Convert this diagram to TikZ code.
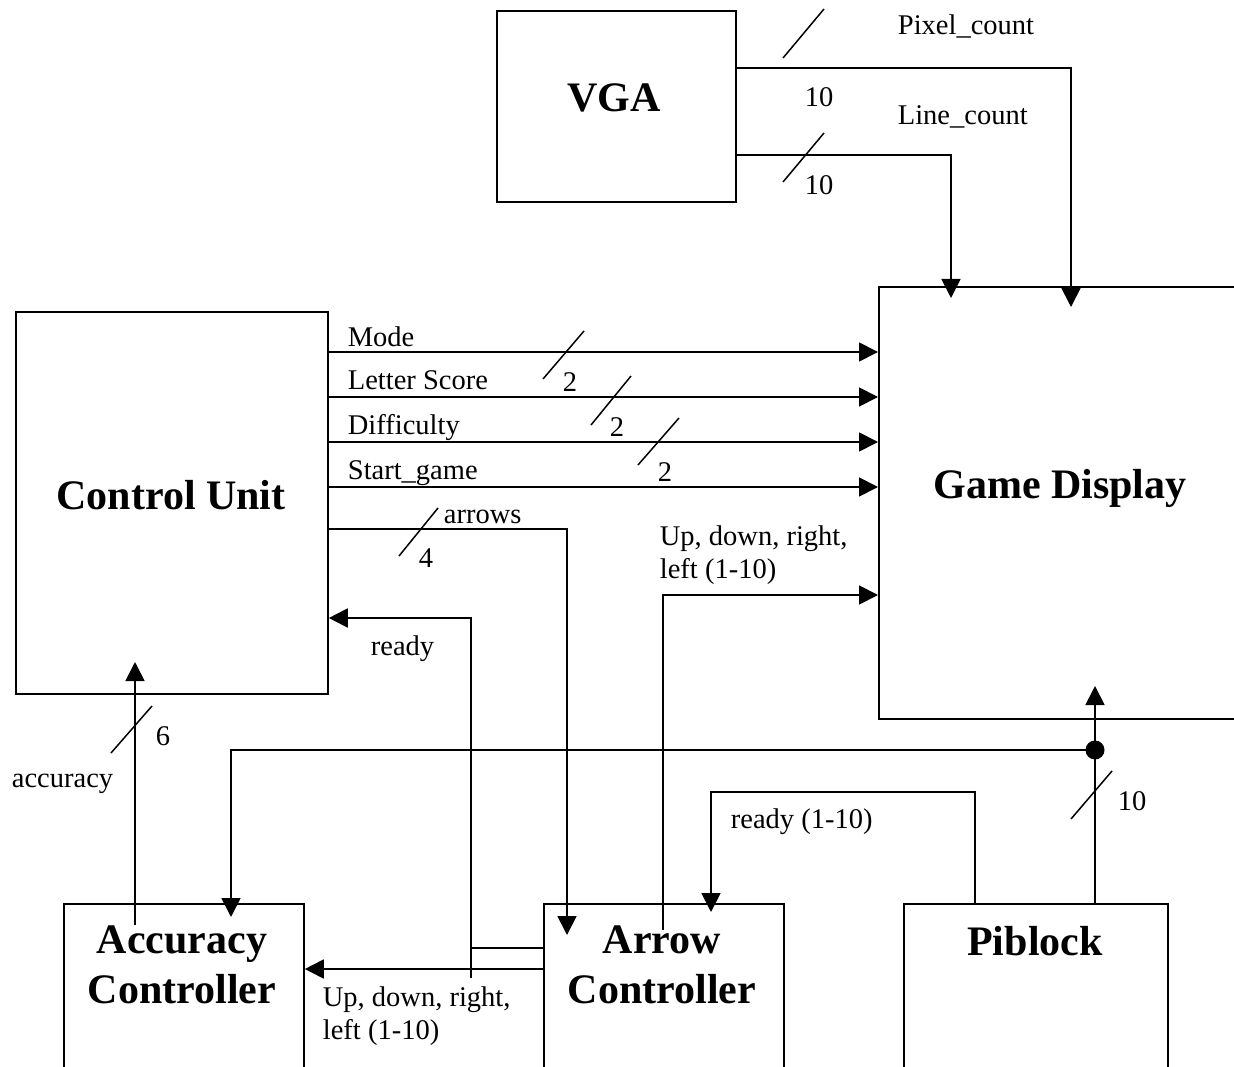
\documentclass[tikz,border=0pt]{standalone}
\usepackage{fontspec}
\setmainfont{Liberation Serif}
\usetikzlibrary{arrows.meta}
\begin{document}
\begin{tikzpicture}[x=1pt,y=-1pt, line width=1.8pt,
  box/.style={draw, line width=1.8pt, rectangle, inner sep=0pt, anchor=north west},
  lbl/.style={font=\fontsize{28.5}{33}\selectfont, inner sep=0pt, anchor=base west},
  big/.style={font=\fontsize{42}{48}\selectfont\bfseries, inner sep=0pt, anchor=base},
  sig/.style={-{Triangle[length=19pt,width=19pt]}},
  slash/.style={line width=1.5pt},
  dotnode/.style={circle, fill, minimum size=19pt, inner sep=0pt}]
\useasboundingbox (0,0) rectangle (1234,1067);
\clip (0,0) rectangle (1234,1067);

% boxes
\node[box, minimum width=239pt, minimum height=191pt] (vga) at (496,10) {};
\node[box, minimum width=312pt, minimum height=382pt] (cu) at (15,311) {};
\node[box, minimum width=420pt, minimum height=432pt] (gd) at (878,286) {};
\node[box, minimum width=240pt, minimum height=220pt] (acc) at (63,903) {};
\node[box, minimum width=240pt, minimum height=220pt] (arr) at (543,903) {};
\node[box, minimum width=264pt, minimum height=220pt] (pib) at (903,903) {};

% box titles
\node[big] (tvga) at (614,112) {VGA};
\node[big] (tcu) at (171,509) {Control Unit};
\node[big] (tgd) at (1060,498) {Game Display};
\node[big] (tacc1) at (182,953) {Accuracy};
\node[big] (tacc2) at (182,1003) {Controller};
\node[big] (tarr1) at (662,953) {Arrow};
\node[big] (tarr2) at (662,1003) {Controller};
\node[big] (tpib) at (1035,955) {Piblock};

% coordinates
\coordinate (pcEnd) at (1071,307);
\coordinate (lcEnd) at (951,298);
\coordinate (arEnd) at (567,935);
\coordinate (rdA) at (471,618);
\coordinate (rdB) at (471,978);
\coordinate (rdC) at (471,948);
\coordinate (udStart) at (663,930);
\coordinate (accStart) at (135,925);
\coordinate (accEnd) at (135,662);
\coordinate (pbEnd) at (1095,686);
\coordinate (accIn) at (231,917);
\coordinate (rrEnd) at (711,912);

% VGA outputs
\draw[sig] (vga.east |- 0,68) -| (pcEnd);
\draw[sig] (vga.east |- 0,155) -| (lcEnd);
\draw[slash] (783,58) -- (824,9);
\draw[slash] (783,182) -- (824,133);
\node[lbl] (lpc) at (897,35) {Pixel\_count};
\node[lbl] (lpc10) at (804,107) {10};
\node[lbl] (llc) at (897,125) {Line\_count};
\node[lbl] (llc10) at (804,195) {10};

% Control unit to game display
\draw[sig] (cu.east |- 0,352) -- (gd.west |- 0,352);
\draw[sig] (cu.east |- 0,397) -- (gd.west |- 0,397);
\draw[sig] (cu.east |- 0,442) -- (gd.west |- 0,442);
\draw[sig] (cu.east |- 0,487) -- (gd.west |- 0,487);
\draw[slash] (543,379) -- (584,331);
\draw[slash] (591,425) -- (631,376);
\draw[slash] (638,465) -- (679,418);
\node[lbl] (lmode) at (347,346) {Mode};
\node[lbl] (lls) at (347,389) {Letter Score};
\node[lbl] (ldiff) at (347,434) {Difficulty};
\node[lbl] (lsg) at (347,479) {Start\_game};
\node[lbl] (n2a) at (562,391) {2};
\node[lbl] (n2b) at (609,436) {2};
\node[lbl] (n2c) at (657,481) {2};

% arrows
\draw[sig] (cu.east |- 0,529) -| (arEnd);
\draw[slash] (399,556) -- (438,508);
\node[lbl] (larrows) at (443,523) {arrows};
\node[lbl] (l4) at (418,567) {4};

% ready
\draw[sig] (arr.west |- rdC) -- (rdC) -- (rdA) -- (cu.east |- rdA);
\draw (rdC) -- (rdB);
\node[lbl] (lready) at (370,655) {ready};

% up down to accuracy controller
\draw[sig] (arr.west |- 0,969) -- (acc.east |- 0,969);
\node[lbl] (lud1) at (322,1006) {Up, down, right,};
\node[lbl] (lud2) at (322,1039) {left (1-10)};

% up down to game display
\draw[sig] (udStart) |- (gd.west |- 0,595);
\node[lbl] (lud3) at (659,545) {Up, down, right,};
\node[lbl] (lud4) at (659,578) {left (1-10)};

% accuracy
\draw[sig] (accStart) -- (accEnd);
\draw[slash] (111,753) -- (152,706);
\node[lbl] (l6) at (155,745) {6};
\node[lbl] (lacc) at (11,787) {accuracy};

% piblock
\node[dotnode] (dot) at (1095,750) {};
\draw[sig] (pib.north -| pbEnd) -- (pbEnd);
\draw[sig] (dot.center) -| (accIn);
\draw[slash] (1071,819) -- (1112,771);
\node[lbl] (l10p) at (1117,810) {10};

% ready (1-10)
\draw[sig] (pib.north -| 975,0) -- (975,792) -| (rrEnd);
\node[lbl] (lrr) at (730,828) {ready (1-10)};
\end{tikzpicture}
\end{document}
